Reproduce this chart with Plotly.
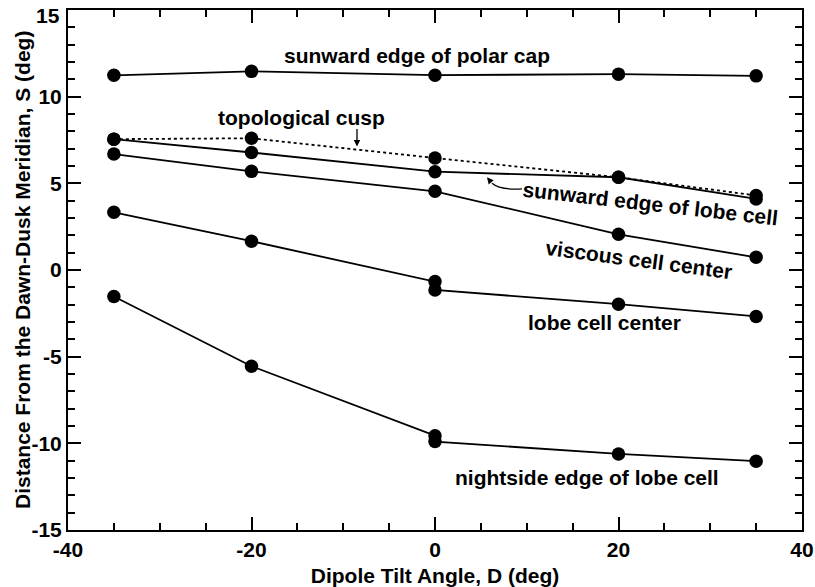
import plotly.graph_objects as go

tilt = [-35, -20, 0, 20, 35]
polar_cap = [11.23, 11.46, 11.24, 11.3, 11.2]
topo_cusp = [7.55, 7.6, 6.46, 5.35, 4.3]
lobe_edge_sun = [7.55, 6.78, 5.67, 5.35, 4.1]
viscous_center = [6.69, 5.69, 4.54, 2.06, 0.73]
tilt_dbl = [-35, -20, 0, 0, 20, 35]
lobe_center = [3.33, 1.66, -0.67, -1.15, -1.97, -2.68]
lobe_edge_night = [-1.53, -5.55, -9.56, -9.9, -10.61, -11.03]

x_ticks = [-40, -20, 0, 20, 40]
x_ticktext = ["-40", "-20", "0", "20", "40"]
x_minor = [-35, -30, -25, -15, -10, -5, 5, 10, 15, 25, 30, 35]
y_ticks = [-15, -10, -5, 0, 5, 10, 15]
y_ticktext = ["-15", "-10", "-5", "0", "5", "10", "15"]
y_minor = [v for v in range(-14, 15) if v % 5 != 0]

FONT = "Liberation Sans, Arial, Helvetica, sans-serif"
BLACK = "#000000"

fig = go.Figure()

def add_line(x, y, dash="solid"):
    fig.add_trace(go.Scatter(
        x=x, y=y, mode="lines+markers",
        line=dict(color=BLACK, width=1.8, dash=dash),
        marker=dict(color=BLACK, size=13.5),
        showlegend=False, cliponaxis=False))

add_line(tilt, polar_cap)
add_line(tilt, topo_cusp, dash="dot")
add_line(tilt, lobe_edge_sun)
add_line(tilt, viscous_center)
add_line(tilt_dbl, lobe_center)
add_line(tilt_dbl, lobe_edge_night)

# invisible trace to carry the minor-tick overlay axes
fig.add_trace(go.Scatter(x=[x_ticks[0]], y=[y_ticks[0]], xaxis="x2", yaxis="y2",
                         mode="markers", marker=dict(opacity=0), showlegend=False,
                         hoverinfo="skip"))

def label(text, x, y, angle=0):
    fig.add_annotation(x=x, y=y, text=text, showarrow=False, textangle=angle,
                       font=dict(family=FONT, size=21, color=BLACK, weight="bold"))

label("sunward edge of polar cap", -1.96, 12.36)
label("topological cusp", -14.5, 8.79)
label("sunward edge of lobe cell", 23.5, 3.85, 6.5)
label("viscous cell center", 22.2, 0.63, 7.5)
label("lobe cell center", 18.5, -3.05)
label("nightside edge of lobe cell", 16.6, -11.95)

def px2x(px):
    return (px - 435) / 9.175

def py2y(py):
    return (270 - py) / 17.4

# arrow for topological cusp
fig.add_annotation(x=px2x(357), y=py2y(146), text="", showarrow=True, arrowhead=2,
                   arrowsize=1, arrowwidth=1.3, arrowcolor=BLACK, ax=0, ay=-19,
                   axref="pixel", ayref="pixel")
# curved arrow for sunward edge of lobe cell
path = "M {},{} Q {},{} {},{}".format(
    px2x(522), py2y(188.5), px2x(500), py2y(190), px2x(492), py2y(183))
fig.add_shape(type="path", path=path, xref="x", yref="y",
              line=dict(color=BLACK, width=1.3))
fig.add_annotation(x=px2x(487), y=py2y(177), text="", showarrow=True, arrowhead=2,
                   arrowsize=1, arrowwidth=1.3, arrowcolor=BLACK, ax=5, ay=6,
                   axref="pixel", ayref="pixel")

tick_font = dict(family=FONT, size=21, color=BLACK, weight="bold")
title_font = dict(family=FONT, size=21, color=BLACK, weight="bold")

# y-axis title placed as a rotated paper annotation
fig.add_annotation(text="Distance From the Dawn-Dusk Meridian, S (deg)",
                   xref="paper", yref="paper", x=(22 - 68) / 734, y=0.5,
                   xanchor="center", yanchor="middle", textangle=-90,
                   showarrow=False, font=title_font)

# top tick label ("15") nudged down so it stays inside the page, as in the reference
y_axis_text = list(y_ticktext)
top_label = y_axis_text[-1]
y_axis_text[-1] = ""
fig.add_annotation(text=top_label, xref="paper", yref="y", x=(62 - 68) / 734,
                   y=y_ticks[-1], yshift=-5, xanchor="right", yanchor="middle",
                   showarrow=False, font=tick_font)

axis_common = dict(
    showgrid=False, zeroline=False, showline=True, linecolor=BLACK, linewidth=2,
    mirror="ticks", ticks="inside", ticklen=13, tickwidth=2, tickcolor=BLACK,
    tickfont=tick_font, tickmode="array", automargin=False,
    ticklabeloverflow="allow",
)
minor_common = dict(
    showgrid=False, zeroline=False, showline=False, mirror="ticks",
    ticks="inside", ticklen=7, tickwidth=1.5, tickcolor=BLACK,
    showticklabels=False, tickmode="array", automargin=False,
)

fig.update_layout(
    width=815, height=587,
    margin=dict(l=68, r=13, t=10, b=57, autoexpand=False),
    paper_bgcolor="white", plot_bgcolor="white",
    xaxis=dict(range=[-40, 40], tickvals=x_ticks, ticktext=x_ticktext,
               title=dict(text="Dipole Tilt Angle, D (deg)", standoff=8, font=title_font),
               **axis_common),
    yaxis=dict(range=[-15, 15], tickvals=y_ticks, ticktext=y_axis_text,
               **axis_common),
    xaxis2=dict(range=[-40, 40], overlaying="x", anchor="y2", side="bottom",
                tickvals=x_minor, **minor_common),
    yaxis2=dict(range=[-15, 15], overlaying="y", anchor="x2", side="left",
                tickvals=y_minor, **minor_common),
)

fig.write_html("out.html")
